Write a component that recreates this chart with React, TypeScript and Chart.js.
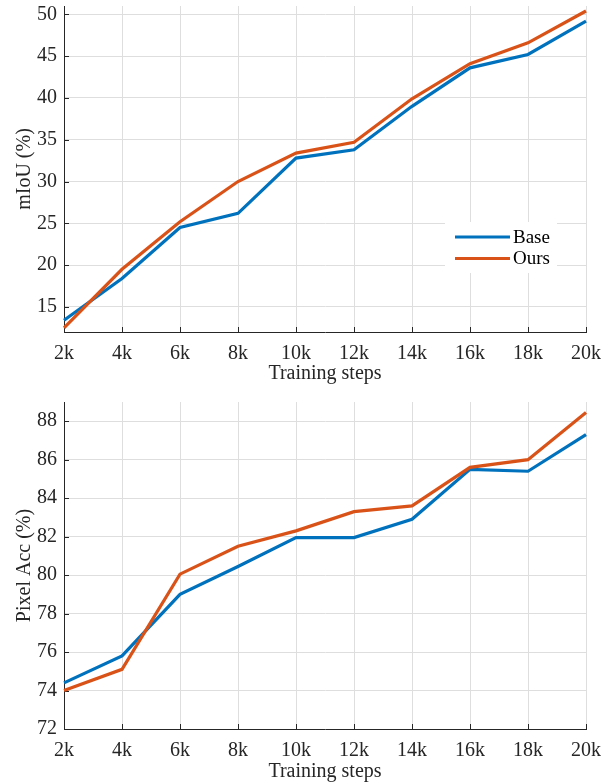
import React, { useEffect, useRef } from 'react';
import { Chart, registerables } from 'chart.js';

Chart.register(...registerables);

// ---- data ----
const steps = ['2k', '4k', '6k', '8k', '10k', '12k', '14k', '16k', '18k', '20k'];
const miouBase = [13.4, 18.4, 24.5, 26.2, 32.8, 33.8, 39.0, 43.6, 45.2, 49.2];
const miouOurs = [12.5, 19.5, 25.2, 30.0, 33.4, 34.7, 39.9, 44.1, 46.6, 50.4];
const accBase = [74.4, 75.8, 79.0, 80.45, 81.95, 81.95, 82.9, 85.5, 85.4, 87.3];
const accOurs = [74.0, 75.1, 80.05, 81.5, 82.3, 83.3, 83.6, 85.6, 86.0, 88.45];
const miouTicks = [15, 20, 25, 30, 35, 40, 45, 50];
const accTicks = [72, 74, 76, 78, 80, 82, 84, 86, 88];

const BLUE = '#0072BD';
const ORANGE = '#D95319';
const GRID = '#dedede';
const AXIS = '#262626';
const TEXT = '#262626';
const FONT_FAMILY = 'Liberation Serif';

Chart.defaults.font.family = FONT_FAMILY;
Chart.defaults.font.size = 20;
Chart.defaults.color = TEXT;

const inwardTicks = {
  id: 'inwardTicks',
  beforeDatasetsDraw(chart: any) {
    const { ctx, chartArea, scales } = chart;
    ctx.save();
    ctx.strokeStyle = AXIS;
    ctx.lineWidth = 1;
    ctx.beginPath();
    scales.x.ticks.forEach((_t: any, i: number) => {
      const x = Math.round(scales.x.getPixelForTick(i)) + 0.5;
      ctx.moveTo(x, chartArea.bottom);
      ctx.lineTo(x, chartArea.bottom - 5);
    });
    scales.y.ticks.forEach((_t: any, i: number) => {
      const y = Math.round(scales.y.getPixelForTick(i)) + 0.5;
      ctx.moveTo(chartArea.left, y);
      ctx.lineTo(chartArea.left + 5, y);
    });
    ctx.stroke();
    ctx.restore();
  },
};

const innerLegend = {
  id: 'innerLegend',
  afterDraw(chart: any) {
    const { ctx, chartArea } = chart;
    const r = chartArea.right;
    const t = chartArea.top;
    ctx.save();
    ctx.fillStyle = '#ffffff';
    ctx.fillRect(r - 141, t + 216, 112, 51);
    const rows = [t + 231, t + 252.5];
    chart.data.datasets.forEach((ds: any, i: number) => {
      const y = rows[i];
      ctx.strokeStyle = ds.borderColor;
      ctx.lineWidth = 3;
      ctx.beginPath();
      ctx.moveTo(r - 131, y);
      ctx.lineTo(r - 76, y);
      ctx.stroke();
      ctx.fillStyle = '#000000';
      ctx.font = `19px "${FONT_FAMILY}"`;
      ctx.textBaseline = 'middle';
      ctx.textAlign = 'left';
      ctx.fillText(ds.label, r - 73, y + 1);
    });
    ctx.restore();
  },
};

type Props = {
  base: number[];
  ours: number[];
  ticks: number[];
  min: number;
  max: number;
  yTitle: string;
  padTop: number;
  xAxisH: number;
  xTitlePad: number;
  legend: boolean;
  top: number;
};

function LineChart(p: Props) {
  const ref = useRef<HTMLCanvasElement | null>(null);
  useEffect(() => {
    if (!ref.current) return;
    const chart = new Chart(ref.current, {
      type: 'line',
      data: {
        labels: steps,
        datasets: [
          { label: 'Base', data: p.base, borderColor: BLUE, backgroundColor: BLUE, borderWidth: 3.2, pointRadius: 0, tension: 0, order: 1 },
          { label: 'Ours', data: p.ours, borderColor: ORANGE, backgroundColor: ORANGE, borderWidth: 3.2, pointRadius: 0, tension: 0, order: 0 },
        ],
      },
      options: {
        responsive: false,
        animation: false,
        devicePixelRatio: 1,
        layout: { padding: { left: 0, right: 25, top: p.padTop, bottom: 0 } },
        plugins: { legend: { display: false }, tooltip: { enabled: false } },
        scales: {
          x: {
            type: 'category',
            offset: false,
            grid: { color: GRID, drawTicks: false },
            border: { color: AXIS, width: 1 },
            ticks: { color: TEXT, font: { family: FONT_FAMILY, size: 20 }, padding: 10, autoSkip: false, maxRotation: 0 },
            title: { display: true, text: 'Training steps', color: TEXT, font: { family: FONT_FAMILY, size: 20 }, padding: { top: 0, bottom: p.xTitlePad } },
            afterFit: (s: any) => {
              s.height = p.xAxisH;
              s.paddingLeft = 0;
              s.paddingRight = 0;
            },
          },
          y: {
            type: 'linear',
            min: p.min,
            max: p.max,
            grid: { color: GRID, drawTicks: false },
            border: { color: AXIS, width: 1 },
            ticks: { color: TEXT, font: { family: FONT_FAMILY, size: 20 }, padding: 7 },
            afterBuildTicks: (s: any) => {
              s.ticks = p.ticks.map((v) => ({ value: v }));
            },
            title: { display: true, text: p.yTitle, color: TEXT, font: { family: FONT_FAMILY, size: 20 }, padding: { top: 13, bottom: 0 } },
            afterFit: (s: any) => {
              s.width = 64;
              s.paddingTop = 0;
              s.paddingBottom = 0;
            },
          },
        },
      } as any,
      plugins: p.legend ? [inwardTicks, innerLegend] : [inwardTicks],
    });
    return () => chart.destroy();
  }, []);
  return (
    <canvas
      ref={ref}
      width={611}
      height={392}
      style={{ position: 'absolute', left: 0, top: p.top, width: 611, height: 392 }}
    />
  );
}

export default function App() {
  return (
    <div style={{ position: 'absolute', left: 0, top: 0, width: 611, height: 784, background: '#ffffff' }}>
      <LineChart base={miouBase} ours={miouOurs} ticks={miouTicks} min={12} max={51} yTitle="mIoU (%)"
        padTop={6} xAxisH={60} xTitlePad={6} legend={true} top={0} />
      <LineChart base={accBase} ours={accOurs} ticks={accTicks} min={72} max={89} yTitle="Pixel Acc (%)"
        padTop={10} xAxisH={55} xTitlePad={0} legend={false} top={392} />
    </div>
  );
}
